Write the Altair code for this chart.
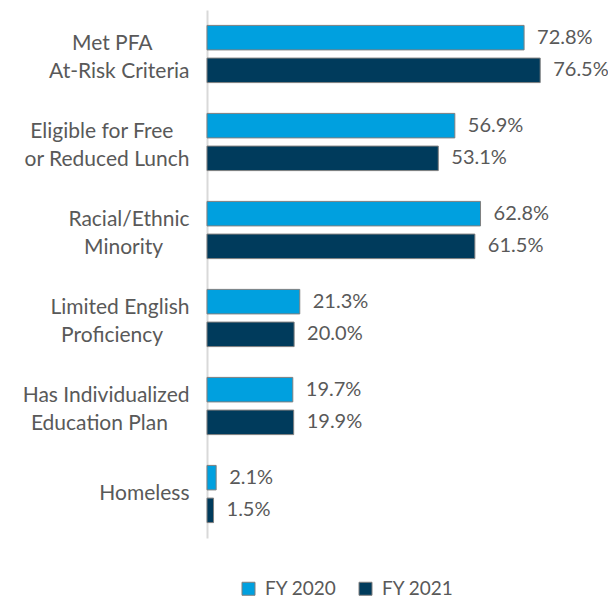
import altair as alt
import pandas as pd

NB = "\u00a0"
ZW = "\u200b"


def pad(n):
    return NB * n + ZW


categories = [
    "Met PFA" + pad(7) + "|At-Risk Criteria",
    "Eligible for Free" + pad(3) + "|or Reduced Lunch",
    "Racial/Ethnic|Minority" + pad(5),
    "Limited English|Proficiency" + pad(5),
    "Has Individualized|Education Plan" + pad(4),
    "Homeless",
]
years = ["FY 2020", "FY 2021"]
fy2020 = [72.8, 56.9, 62.8, 21.3, 19.7, 2.1]
fy2021 = [76.5, 53.1, 61.5, 20.0, 19.9, 1.5]
colors = ["#00a0df", "#003b5c"]

rows = []
for c, a, b in zip(categories, fy2020, fy2021):
    rows.append({"category": c, "year": years[0], "value": a})
    rows.append({"category": c, "year": years[1], "value": b})
df = pd.DataFrame(rows)

FONT = "Lato"
GREY = "#595959"

base = alt.Chart(df).encode(
    y=alt.Y(
        "category:N",
        sort=categories,
        scale=alt.Scale(paddingInner=0.35, paddingOuter=0.175),
        axis=alt.Axis(
            title=None,
            ticks=False,
            domain=True,
            domainColor="#d9d9d9",
            domainWidth=2,
            labelPadding=18,
            labelFont=FONT,
            labelFontSize=21,
            labelColor=GREY,
            labelLineHeight=28,
            labelLimit=400,
            labelOffset={
                "condition": {"test": "indexof(datum.value, '|') >= 0", "value": -10},
                "value": 0,
            },
            labelExpr="split(datum.label, '|')",
        ),
    ),
    yOffset=alt.YOffset("year:N", sort=years, scale=alt.Scale(paddingInner=0.25)),
    x=alt.X("value:Q", scale=alt.Scale(domain=[0, 90]), axis=None),
)

bars = base.mark_bar(stroke="#7f7f7f", strokeWidth=1).encode(
    color=alt.Color(
        "year:N",
        sort=years,
        scale=alt.Scale(domain=years, range=colors),
        legend=alt.Legend(
            title=None,
            orient="none",
            direction="horizontal",
            legendX=32,
            legendY=569,
            symbolType="square",
            symbolSize=169,
            symbolStrokeColor="#7f7f7f",
            symbolStrokeWidth=1,
            labelFont=FONT,
            labelFontSize=19,
            labelColor=GREY,
            labelOffset=7,
            columnPadding=19,
        ),
    )
)

text = base.transform_calculate(
    lbl="format(datum.value, '.1f') + '%'"
).mark_text(align="left", baseline="middle", dx=13, font=FONT, fontSize=20, color=GREY).encode(
    text="lbl:N"
)

chart = alt.layer(bars, text).properties(
    width=392,
    height=528,
    autosize=alt.AutoSizeParams(type="none"),
    padding={"left": 199, "top": 2, "right": 9, "bottom": 62},
).configure_view(stroke=None)

chart.save("out.html", embed_options={"renderer": "svg", "actions": False})
